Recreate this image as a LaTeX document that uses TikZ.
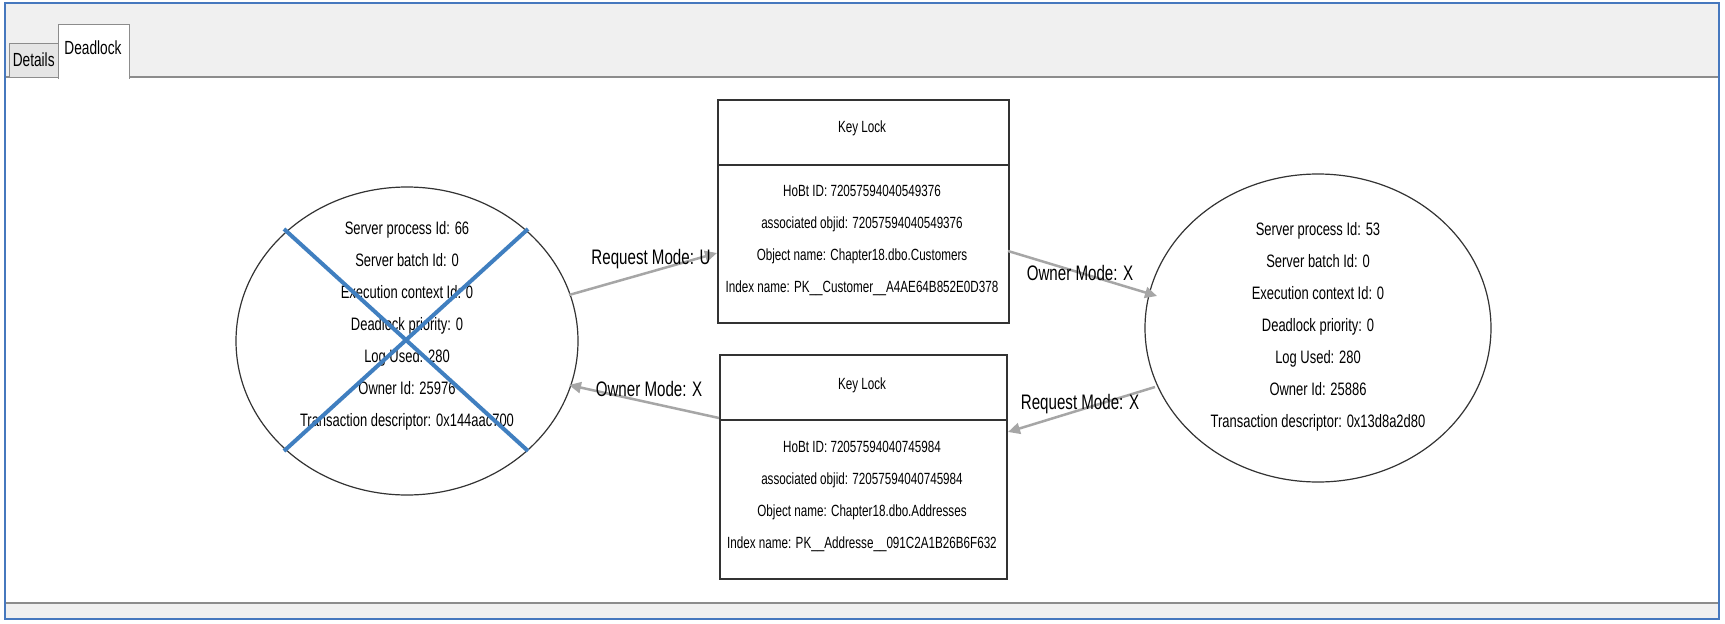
\documentclass[tikz,border=0pt]{standalone}
\usepackage{fontspec}
\setmainfont[FakeStretch=0.72]{Liberation Sans}
\usetikzlibrary{arrows.meta}
\tikzset{
 txt/.style={font=\fontsize{18}{32}\selectfont, align=center, inner sep=0},
 btxt/.style={font=\fontsize{16.2}{32}\selectfont, align=center, inner sep=0},
 lbl/.style={font=\fontsize{21}{24}\selectfont, inner sep=1pt},
 conn/.style={draw=black!35, line width=2.5pt, -{Triangle[length=12pt,width=11pt]}},
 boxl/.style={draw=black!80, line width=1.5pt},
 proc/.style={draw=black!80, line width=1.2pt},
 crossl/.style={line width=4pt, color={rgb,255:red,64;green,127;blue,192}},
 tabt/.style={font=\fontsize{19}{21}\selectfont},
}
\begin{document}
\begin{tikzpicture}[x=1pt,y=-1pt]
\useasboundingbox (0,0) rectangle (1725,624);
\fill[white] (0,0) rectangle (1725,624);
% window
\fill[black!6] (6,4) rectangle (1718,77);
\fill[black!6] (6,603) rectangle (1718,618);
\draw[black!45, line width=1.2pt] (6,77) -- (1718,77);
\draw[black!45, line width=1.2pt] (6,603) -- (1718,603);
\node[draw=black!45, fill=black!10, minimum width=49pt, minimum height=34pt, anchor=north west, inner sep=0] (tabd) at (9,43) {};
\node[tabt] (tabdt) at (tabd.center) {Details};
\fill[white] (58,24) rectangle (129,79);
\draw[black!45, line width=1pt] (58,79) -- (58,24) -- (129,24) -- (129,79);
\node[tabt] (tabl) at (93,48) {Deadlock};
\draw[color={rgb,255:red,70;green,120;blue,190}, line width=2pt] (5,3) rectangle (1719,619);
% processes
\draw[proc] (407,341) ellipse [x radius=171, y radius=154];
\node (p1) at (407,341) [minimum width=342pt, minimum height=308pt, inner sep=0] {};
\node[txt] (p1t) at (407,326) {Server process Id: 66\\Server batch Id: 0\\Execution context Id: 0\\Deadlock priority: 0\\Log Used: 280\\Owner Id: 25976\\Transaction descriptor: 0x144aac700};
\draw[proc] (1318,328) ellipse [x radius=173, y radius=154];
\node (p2) at (1318,328) [minimum width=346pt, minimum height=308pt, inner sep=0] {};
\node[txt] (p2t) at (1318,327) {Server process Id: 53\\Server batch Id: 0\\Execution context Id: 0\\Deadlock priority: 0\\Log Used: 280\\Owner Id: 25886\\Transaction descriptor: 0x13d8a2d80};
% cross
\coordinate (c1) at (284,229); \coordinate (c2) at (528,451);
\coordinate (c3) at (528,229); \coordinate (c4) at (284,451);
\draw[crossl] (c1) -- (c2);
\draw[crossl] (c3) -- (c4);
% key locks
\node[boxl, minimum width=291pt, minimum height=223pt, anchor=north west] (k1) at (717,99) {};
\draw[boxl] (717,165) -- (1008,165);
\node[btxt] (k1h) at (862,128) {Key Lock};
\node[btxt] (k1t) at (862,240) {HoBt ID: 72057594040549376\\associated objid: 72057594040549376\\Object name: Chapter18.dbo.Customers\\Index name: PK\_\_Customer\_\_A4AE64B852E0D378};
\node[boxl, minimum width=287pt, minimum height=224pt, anchor=north west] (k2) at (719,354) {};
\draw[boxl] (719,420) -- (1006,420);
\node[btxt] (k2h) at (862,385) {Key Lock};
\node[btxt] (k2t) at (862,496) {HoBt ID: 72057594040745984\\associated objid: 72057594040745984\\Object name: Chapter18.dbo.Addresses\\Index name: PK\_\_Addresse\_\_091C2A1B26B6F632};
% connectors
\coordinate (a1) at (569,295); \coordinate (a2) at (717,253);
\draw[conn] (a1) -- (a2);
\coordinate (b1) at (1008,251); \coordinate (b2) at (1157,296);
\draw[conn] (b1) -- (b2);
\coordinate (d1) at (1155,387); \coordinate (d2) at (1008,432);
\draw[conn] (d1) -- (d2);
\coordinate (e1) at (719,418); \coordinate (e2) at (569,385);
\draw[conn] (e1) -- (e2);
\node[lbl] (l1) at (651,259) {Request Mode: U};
\node[lbl] (l2) at (1080,273) {Owner Mode: X};
\node[lbl] (l3) at (1080,404) {Request Mode: X};
\node[lbl] (l4) at (649,389) {Owner Mode: X};
\end{tikzpicture}
\end{document}
